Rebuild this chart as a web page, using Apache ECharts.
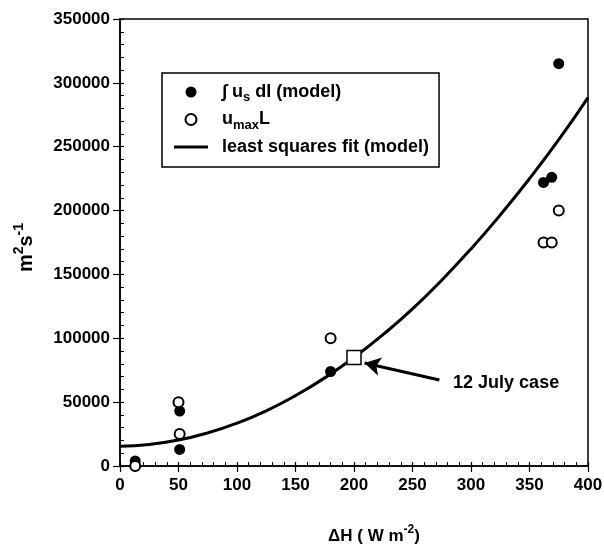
<!DOCTYPE html>
<html>
<head>
<meta charset="utf-8">
<script src="https://cdn.jsdelivr.net/npm/echarts@6/dist/echarts.min.js"></script>
<style>
  html, body { margin: 0; background: #fff; }
  #chart { width: 604px; height: 544px; }
</style>
</head>
<body>
<div id="chart"></div>
<script>
// ∫ u_s dl (model) — filled circles
const modelX = [13, 51, 51, 180, 362, 369, 375];
const modelY = [4000, 43000, 13000, 74000, 222000, 226000, 315000];
// u_max L — open circles
const umaxX = [13, 50, 51, 180, 362, 369, 375];
const umaxY = [0, 50000, 25000, 100000, 175000, 175000, 200000];
// least squares fit (model)
const fitX = [0, 25, 50, 75, 100, 125, 150, 175, 200, 225, 250, 275, 300, 325, 350, 375, 400];
const fitY = [15500, 16900, 20300, 25900, 33500, 43200, 55100, 69000, 85000, 103000, 123000, 145500, 170000, 196500, 225000, 255500, 288500];
// 12 July case marker and arrow
const caseX = 200, caseY = 85000;
const arrowStart = [273, 67300];
const arrowEnd = [209, 80600];

const FONT = 'Liberation Sans';
const zip = (xs, ys) => xs.map((x, i) => [x, ys[i]]);

const legendText = {
  model: '{n|∫ u}{sub|s}{n| dl (model)}',
  umax: '{n|u}{sub|max}{n|L}',
  fit: '{n|least squares fit (model)}'
};

const chart = echarts.init(document.getElementById('chart'));

const baseAxis = {
  type: 'value',
  axisLine: { show: true, onZero: false, lineStyle: { color: '#000', width: 1.5 } },
  splitLine: { show: false }
};

chart.setOption({
  animation: false,
  grid: {
    left: 120, right: 16, top: 19, bottom: 78,
    outerBoundsMode: 'none',
    show: true, borderColor: '#000', borderWidth: 1.5
  },
  legend: {
    orient: 'vertical',
    left: 162,
    top: 73,
    padding: [10, 10, 11, 12],
    itemGap: 6.5,
    itemWidth: 34,
    itemHeight: 11,
    borderColor: '#000',
    borderWidth: 1.5,
    data: [
      { name: 'model' },
      { name: 'umax' },
      { name: 'fit', icon: 'path://M0 0H34V3H0Z' }
    ],
    formatter: name => legendText[name],
    textStyle: {
      padding: [0, 0, 0, 9],
      rich: {
        n: { fontFamily: FONT, fontSize: 18, fontWeight: 'bold', color: '#000', lineHeight: 24 },
        sub: { fontFamily: FONT, fontSize: 13, fontWeight: 'bold', color: '#000', lineHeight: 13, verticalAlign: 'bottom' }
      }
    }
  },
  xAxis: [
    Object.assign({}, baseAxis, {
      min: 0, max: 400, interval: 50,
      axisTick: { show: true, length: 6, lineStyle: { color: '#000', width: 1.2 } },
      axisLabel: { margin: 11, color: '#000', fontFamily: FONT, fontSize: 17, fontWeight: 'bold' },
      name: '{n|ΔH ( W m}{sup|-2}{n|)}',
      nameLocation: 'middle',
      nameGap: 58,
      nameTextStyle: {
        padding: [0, 0, 0, 40],
        rich: {
          n: { fontFamily: FONT, fontSize: 17, fontWeight: 'bold', color: '#000', lineHeight: 24 },
          sup: { fontFamily: FONT, fontSize: 12, fontWeight: 'bold', color: '#000', lineHeight: 12, verticalAlign: 'top' }
        }
      }
    }),
    Object.assign({}, baseAxis, {
      min: 0, max: 400, interval: 50, position: 'bottom',
      axisLine: { show: false },
      axisLabel: { show: false },
      axisTick: { show: true, inside: true, length: 4, lineStyle: { color: '#000', width: 1.2 } },
      minorTick: { show: true, splitNumber: 5, length: 4, lineStyle: { color: '#000', width: 1 } }
    })
  ],
  yAxis: [
    Object.assign({}, baseAxis, {
      min: 0, max: 350000, interval: 50000,
      axisTick: { show: true, length: 7, lineStyle: { color: '#000', width: 1.2 } },
      axisLabel: {
        margin: 10, color: '#000', fontFamily: FONT, fontSize: 17, fontWeight: 'bold',
        formatter: v => String(v)
      },
      name: '{n|m}{sup|2}{n|s}{sup|-1}',
      nameLocation: 'middle',
      nameRotate: 90,
      nameGap: 80,
      nameTextStyle: {
        padding: [0, 10, 0, 0],
        rich: {
          n: { fontFamily: FONT, fontSize: 20, fontWeight: 'bold', color: '#000', lineHeight: 28 },
          sup: { fontFamily: FONT, fontSize: 14, fontWeight: 'bold', color: '#000', lineHeight: 14, verticalAlign: 'top' }
        }
      }
    }),
    Object.assign({}, baseAxis, {
      min: 0, max: 350000, interval: 50000, position: 'left',
      axisLine: { show: false },
      axisLabel: { show: false },
      axisTick: { show: true, inside: true, length: 4, lineStyle: { color: '#000', width: 1.2 } },
      minorTick: { show: true, splitNumber: 5, length: 4, lineStyle: { color: '#000', width: 1 } }
    })
  ],
  series: [
    {
      name: 'fit',
      type: 'line',
      smooth: true,
      symbol: 'none',
      data: zip(fitX, fitY),
      lineStyle: { color: '#000', width: 3 },
      itemStyle: { color: '#000' },
      z: 2,
      markLine: {
        silent: true,
        symbol: ['none', 'arrow'],
        symbolSize: [14, 16],
        lineStyle: { color: '#000', width: 3, type: 'solid' },
        label: {
          show: true,
          position: 'start',
          distance: 14,
          formatter: '12 July case',
          color: '#000',
          fontFamily: FONT,
          fontSize: 18,
          fontWeight: 'bold'
        },
        data: [[{ coord: arrowStart }, { coord: arrowEnd }]]
      }
    },
    {
      name: 'model',
      type: 'scatter',
      symbol: 'circle',
      symbolSize: 11,
      data: zip(modelX, modelY),
      itemStyle: { color: '#000', opacity: 1 },
      z: 3
    },
    {
      name: 'umax',
      type: 'scatter',
      symbol: 'circle',
      symbolSize: 10,
      data: zip(umaxX, umaxY),
      itemStyle: { color: '#fff', borderColor: '#000', borderWidth: 2, opacity: 1 },
      z: 4
    },
    {
      name: '12 July case',
      type: 'scatter',
      symbol: 'rect',
      symbolSize: 14,
      data: [[caseX, caseY]],
      itemStyle: { color: '#fff', borderColor: '#000', borderWidth: 1.5, opacity: 1 },
      z: 5
    }
  ]
});
</script>
</body>
</html>
